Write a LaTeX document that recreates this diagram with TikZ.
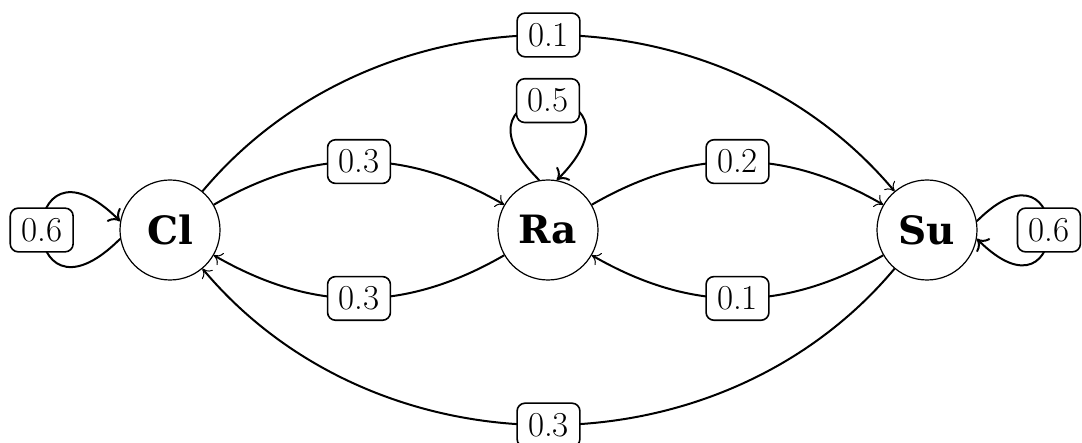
\documentclass[tikz,border=0pt]{standalone}
\usepackage{fontspec}
\newfontfamily\nodefont{DejaVu Serif}
\usetikzlibrary{arrows.meta}
\tikzset{
  state/.style={circle, draw, line width=1.2pt, minimum size=100pt, inner sep=0pt,
    font=\nodefont\bfseries\fontsize{39}{45}\selectfont},
  lab/.style={draw, fill=white, rounded corners=8pt, line width=1.6pt,
    inner xsep=11pt, inner ysep=10pt, font=\fontsize{35}{40}\selectfont},
  edgeline/.style={line width=2pt, -{To[length=8pt,width=14pt,line width=1pt]}},
  loopline/.style={line width=2pt, -{To[length=10pt,width=19pt,line width=2pt]}}
}
\begin{document}
\begin{tikzpicture}[x=1pt,y=1pt]
\useasboundingbox (0,0) rectangle (1082,442);
\node[state] (Cl) at (170,212) {Cl};
\node[state] (Ra) at (548,212) {Ra};
\node[state] (Su) at (927,212) {Su};

% top and bottom arcs
\draw[edgeline] (Cl) to[out=50,in=130,distance=272pt] node[lab] {0.1} (Su);
\draw[edgeline] (Su) to[out=230,in=310,distance=272pt] node[lab] {0.3} (Cl);

% middle arcs
\draw[edgeline] (Cl) to[out=30,in=150,distance=115pt] node[lab] {0.3} (Ra);
\draw[edgeline] (Ra) to[out=210,in=330,distance=115pt] node[lab] {0.3} (Cl);
\draw[edgeline] (Ra) to[out=30,in=150,distance=115pt] node[lab] {0.2} (Su);
\draw[edgeline] (Su) to[out=210,in=330,distance=115pt] node[lab] {0.1} (Ra);

% loops
\draw[loopline] (Cl.190) to[out=225,in=135,distance=148pt] node[lab] {0.6} (Cl.170);
\draw[loopline] (Ra.100) to[out=135,in=45,distance=150pt] node[lab] {0.5} (Ra.80);
\draw[loopline] (Su.10) to[out=45,in=-45,distance=136pt] node[lab] {0.6} (Su.-10);
\end{tikzpicture}
\end{document}
